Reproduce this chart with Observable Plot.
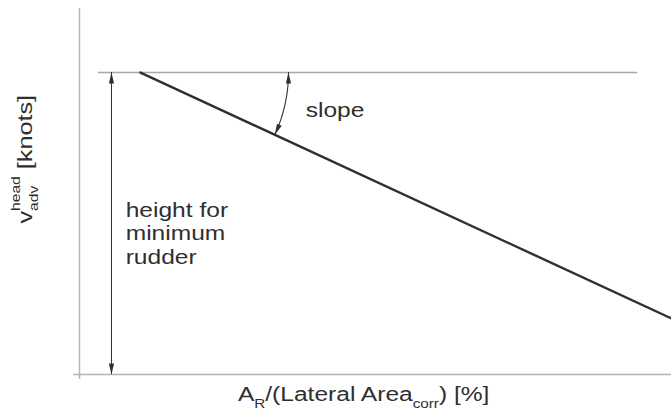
<!DOCTYPE html>
<html>
<head>
<meta charset="utf-8">
<script src="https://cdn.jsdelivr.net/npm/d3@7"></script>
<script src="https://cdn.jsdelivr.net/npm/@observablehq/plot@0.6"></script>
<style>
  html, body { margin: 0; padding: 0; background: #fff; }
  #chart svg { display: block; font-family: "Liberation Sans", Arial, Helvetica, sans-serif; }
</style>
</head>
<body>
<div id="chart"></div>
<script>
// ---- Data (schematic; axis units 0..100) ----
const lineX = [10.3, 100];          // sloped line: x endpoints
const lineY = [82.5, 15.3];         // sloped line: y endpoints
const refLineX = [3.2, 94.3];       // horizontal reference line extent
const refLineY = 82.5;              // height of reference line
const heightArrowX = 5.4;           // x of "height for minimum rudder" arrow
const annotationTexts = ["slope", "height for\nminimum\nrudder"];
const annotationX = [38.2, 7.8];
const annotationY = [72.4, 38.8];
const xLabelParts = [["A", "n"], ["R", "sub"], ["/(Lateral Area", "n"], ["corr", "sub"], [") [%]", "n"]];
const yLabelParts = [["v", "n"], ["head", "sup"], ["adv", "sub"], [" [knots]", "n"]];

// ---- Layout ----
const W = 671, H = 410;
const mL = 79, mR = 0, mT = 8, mB = 36;
const kx = (W - mL - mR) / 100, ky = (H - mT - mB) / 100; // px per unit
const ink = "#2f2f2f", axisGray = "#b4b4b4";
const FS = 21, STRETCH = 1.17;

// slope arc around the line start, radius in px
const R = 148;
const theta = Math.atan2((lineY[0] - lineY[1]) * ky, (lineX[1] - lineX[0]) * kx);
const arc = d3.range(0, 41).map(i => {
  const a = theta * i / 40;
  return {x: lineX[0] + R * Math.cos(a) / kx, y: lineY[0] - R * Math.sin(a) / ky};
});
const thetaDeg = theta * 180 / Math.PI;
const heads = [
  {x: heightArrowX, y: refLineY, r: 0},
  {x: heightArrowX, y: 0, r: 180},
  {x: arc[0].x, y: arc[0].y, r: 0},
  {x: arc[arc.length - 1].x, y: arc[arc.length - 1].y, r: 180 + thetaDeg}
];
const narrowHead = {draw(ctx) { ctx.moveTo(0, 0); ctx.lineTo(2.6, 11); ctx.lineTo(-2.6, 11); ctx.closePath(); }};

const annotations = annotationTexts.map((t, i) => ({t, x: annotationX[i], y: annotationY[i]}));

const plot = Plot.plot({
  width: W, height: H,
  marginLeft: mL, marginRight: mR, marginTop: mT, marginBottom: mB,
  x: {domain: [0, 100], axis: null},
  y: {domain: [0, 100], axis: null},
  style: {fontFamily: '"Liberation Sans", Arial, sans-serif', background: "#fff"},
  marks: [
    // axes
    Plot.ruleX([0], {y1: -1.4, y2: 100, stroke: axisGray, strokeWidth: 1.5}),
    Plot.ruleY([0], {x1: -1, x2: 100, stroke: axisGray, strokeWidth: 1.5}),
    // reference horizontal line
    Plot.ruleY([refLineY], {x1: refLineX[0], x2: refLineX[1], stroke: "#a8a8a8", strokeWidth: 1.6}),
    // main sloped line
    Plot.line(lineX.map((x, i) => ({x, y: lineY[i]})), {x: "x", y: "y", stroke: ink, strokeWidth: 2.4}),
    // height arrow
    Plot.ruleX([heightArrowX], {y1: 0, y2: refLineY, stroke: ink, strokeWidth: 1}),
    // slope arc
    Plot.line(arc, {x: "x", y: "y", stroke: ink, strokeWidth: 1.1}),
    // arrow heads
    Plot.dot(heads, {x: "x", y: "y", rotate: "r", symbol: narrowHead, fill: ink, stroke: "none", r: 4}),
    // annotations
    Plot.text(annotations, {x: "x", y: "y", text: "t", textAnchor: "start", lineAnchor: "middle",
      fontSize: FS, fill: ink, lineHeight: 1.12, className: "stretch"}),
    // axis labels
    Plot.text([xLabelParts.map(d => d[0]).join("")], {x: 48.0, y: -5.5, text: d => d, textAnchor: "middle",
      lineAnchor: "middle", fontSize: FS, fill: ink, className: "xlab"}),
    Plot.text([yLabelParts.map(d => d[0]).join("")], {x: -9.2, y: 58.8, text: d => d, rotate: -90,
      textAnchor: "middle", lineAnchor: "middle", fontSize: FS, fill: ink, className: "ylab"})
  ]
});

document.getElementById("chart").appendChild(plot);

// rebuild axis labels with sub/superscripts
function richLabel(sel, parts) {
  const t = d3.select(plot).select(sel).select("text");
  t.text(null);
  let shift = 0;
  parts.forEach(([s, kind]) => {
    const ts = t.append("tspan").text(s);
    if (kind === "sub" || kind === "sup") {
      ts.attr("font-size", "62%");
      const target = kind === "sub" ? 0.3 : -0.55; // em of base font
      ts.attr("dy", ((target - shift) * FS).toFixed(2));
      shift = target;
    } else {
      ts.attr("dy", ((0 - shift) * FS).toFixed(2));
      shift = 0;
    }
    ts.node().__kind = kind;
  });
  // stack consecutive sup+sub
  const spans = t.selectAll("tspan").nodes();
  for (let i = 1; i < spans.length; i++) {
    const a = spans[i - 1], b = spans[i];
    if ((a.__kind === "sup" && b.__kind === "sub") || (a.__kind === "sub" && b.__kind === "sup")) {
      const wa = a.getComputedTextLength(), wb = b.getComputedTextLength();
      b.setAttribute("dx", (-wa).toFixed(2));
      if (spans[i + 1]) spans[i + 1].setAttribute("dx", Math.max(0, wa - wb).toFixed(2));
    }
  }
}
richLabel(".xlab", xLabelParts);
richLabel(".ylab", yLabelParts);

// stretch texts along their reading direction (source image is widened)
d3.select(plot).selectAll(".stretch text, .xlab text").each(function() {
  const tr = this.getAttribute("transform") || "";
  this.setAttribute("transform", tr + ` scale(${STRETCH},1)`);
});
d3.select(plot).selectAll(".ylab text").each(function() {
  const tr = this.getAttribute("transform") || "";
  this.setAttribute("transform", tr + ` scale(1.2,1)`);
});
</script>
</body>
</html>
